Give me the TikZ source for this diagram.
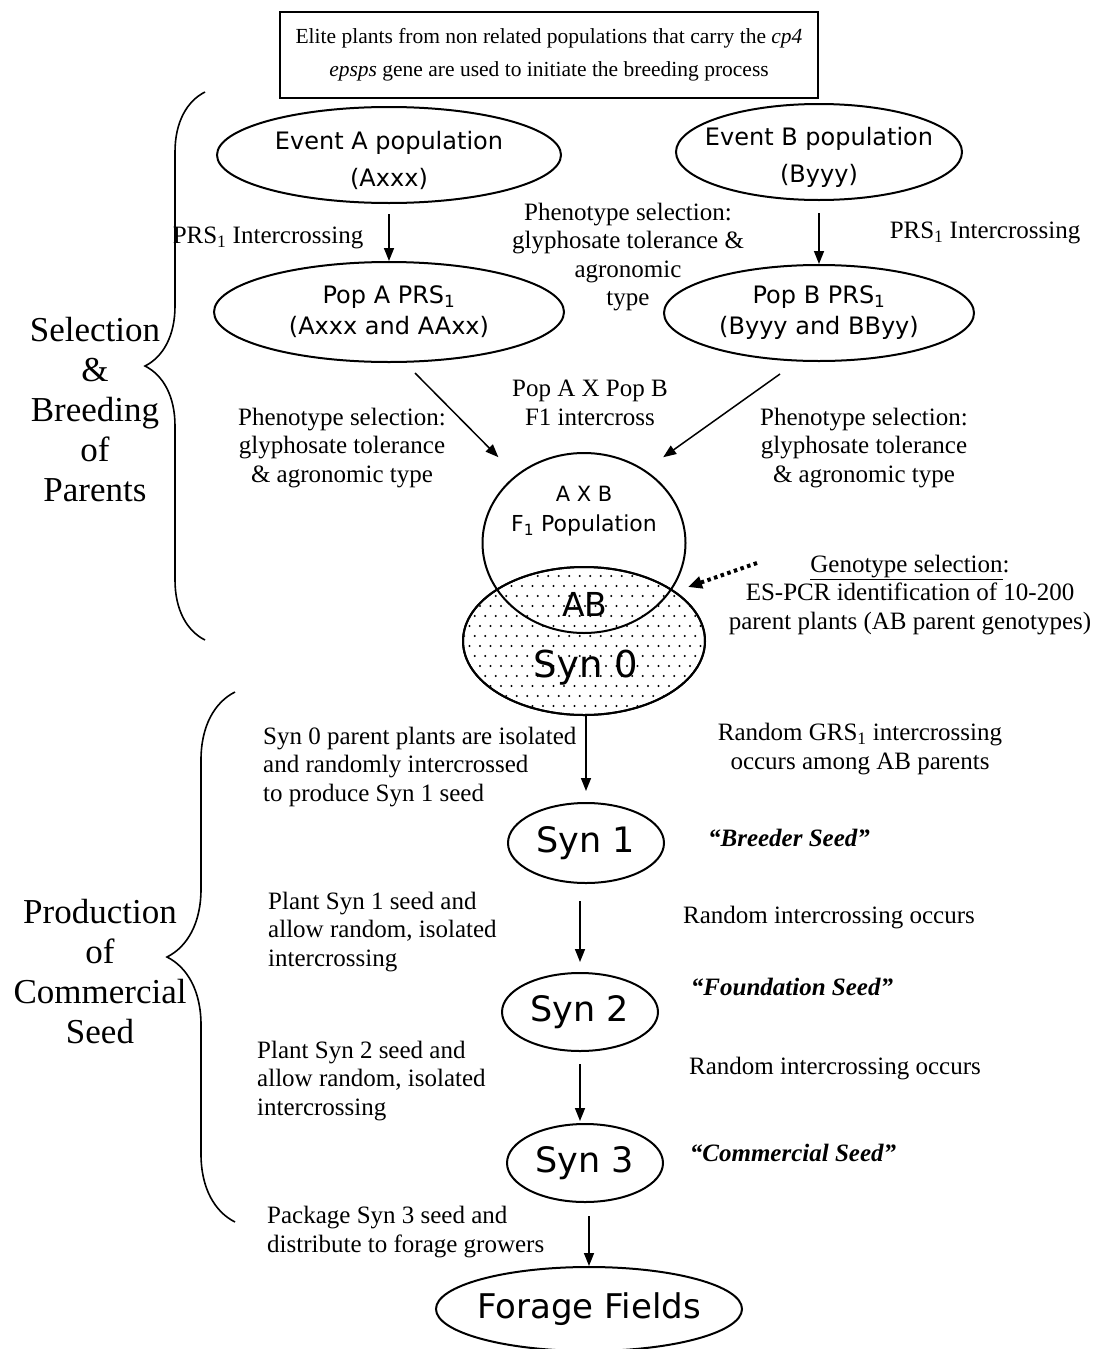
\documentclass[tikz,border=0pt]{standalone}
\usepackage{fontspec}
\setmainfont{Liberation Serif}
\newfontfamily\sansf{DejaVu Sans}
\usetikzlibrary{arrows.meta,shapes.geometric,decorations.pathreplacing}
\begin{document}
\begin{tikzpicture}[x=1pt,y=-1pt,
  txt/.style={font=\fontsize{25}{28.5}\selectfont, align=center, inner sep=0pt},
  txtl/.style={font=\fontsize{25}{28.5}\selectfont, align=left, inner sep=0pt, anchor=west},
  big/.style={font=\fontsize{35}{40}\selectfont, align=center, inner sep=0pt},
  seedlbl/.style={font=\fontsize{25}{28}\selectfont\bfseries\itshape, inner sep=0pt},
  ell/.style={draw, line width=2pt, ellipse, inner sep=0pt},
  sanslbl/.style={font=\sansf\fontsize{24}{37}\selectfont, align=center, inner sep=0pt},
  poplbl/.style={font=\sansf\fontsize{24}{31}\selectfont, align=center, inner sep=0pt},
  synlbl/.style={font=\sansf\fontsize{35}{38}\selectfont, inner sep=0pt},
  arr/.style={line width=1.5pt, -{Triangle[length=13pt,width=10pt]}},
  dotarr/.style={line width=4pt, dash pattern=on 3.5pt off 3.5pt, -{Triangle[length=14pt,width=12pt]}},
  bracestyle/.style={line width=1.6pt, decorate}
]
\useasboundingbox (0,0) rectangle (1097,1349);

% top box
\node[draw, line width=1.6pt, minimum width=538pt, minimum height=86pt, align=center,
      font=\fontsize{21.5}{33}\selectfont, inner sep=0pt] (top) at (549,55)
  {Elite plants from non related populations that carry the \textit{cp4}\\
   \textit{epsps} gene are used to initiate the breeding process};

% braces and side labels
\draw[bracestyle, decoration={brace, amplitude=60pt}] (205,640) -- (205,92);
\draw[bracestyle, decoration={brace, amplitude=68pt}] (235,1222) -- (235,692);
\node[big] (selLbl) at (95,410) {Selection\\\&\\Breeding\\of\\Parents};
\node[big] (prodLbl) at (100,972) {Production\\of\\Commercial\\Seed};

% first row
\node[ell, minimum width=344pt, minimum height=96pt,
      label={[sanslbl, yshift=-5pt]center:{Event A population\\(Axxx)}}] (evA) at (389,155) {};
\node[ell, minimum width=286pt, minimum height=96pt,
      label={[sanslbl, yshift=-5pt]center:{Event B population\\(Byyy)}}] (evB) at (819,152) {};

\node[ell, minimum width=350pt, minimum height=100pt,
      label={[poplbl]center:{Pop A PRS\textsubscript{1}\\(Axxx and AAxx)}}] (popA) at (389,312) {};
\node[ell, minimum width=310pt, minimum height=96pt,
      label={[poplbl]center:{Pop B PRS\textsubscript{1}\\(Byyy and BByy)}}] (popB) at (819,313) {};

\draw[arr] ([yshift=-10pt]evA.south) -- (popA.north);
\draw[arr] ([yshift=-12pt]evB.south) -- (popB.north);

\node[txt] (prsA) at (268,238) {PRS\textsubscript{1} Intercrossing};
\node[txt] (prsB) at (985,233) {PRS\textsubscript{1} Intercrossing};
\node[txt] (phenoMid) at (628,257) {Phenotype selection:\\glyphosate tolerance \&\\agronomic\\type};

% Syn 0 ellipse with dots
\node[ell, minimum width=242pt, minimum height=148pt] (syn0) at (584,641) {};
\begin{scope}
  \clip (584,641) ellipse [x radius=120pt, y radius=73pt];
  \foreach \r in {0,...,15} {
    \foreach \c in {0,...,24} {
      \fill ({459+\c*10.5+mod(\r,2)*5.25},{566+\r*10}) circle [radius=1.1pt];
    }
  }
\end{scope}
\node[ell, minimum width=242pt, minimum height=148pt] at (syn0) {};

% F1 circle
\node[ell, minimum width=203pt, minimum height=180pt] (f1) at (584,543) {};
\node[font=\sansf\fontsize{21}{22}\selectfont, inner sep=0pt] (axb) at (584,494) {A X B};
\node[font=\sansf\fontsize{22}{24}\selectfont, inner sep=0pt] (f1pop) at (584,525) {F\textsubscript{1} Population};
\node[font=\sansf\fontsize{33}{34}\selectfont, inner sep=0pt] (ablbl) at (585,604) {AB};
\node[font=\sansf\fontsize{37}{38}\selectfont, inner sep=0pt] (syn0lbl) at (586,668) {Syn 0};

\node[txt] (popx) at (590,403) {Pop A X Pop B\\F1 intercross};
\node[txt] (phenoL) at (342,448) {Phenotype selection:\\glyphosate tolerance\\\& agronomic type};
\node[txt] (phenoR) at (864,448) {Phenotype selection:\\glyphosate tolerance\\\& agronomic type};

\draw[arr, shorten >=25pt] ([xshift=26pt,yshift=-10pt]popA.south) -- (f1.135);
\draw[arr, shorten >=22pt] ([xshift=-39pt,yshift=-12pt]popB.south) -- (f1.50);

\coordinate (gsStart) at (757,563);
\coordinate (gsTip) at (688,587);
\draw[dotarr] (gsStart) -- (gsTip);
\node[txt] (geno) at (910,595) {\underline{Genotype selection}:\\ES-PCR identification of 10-200\\parent plants (AB parent genotypes)};

% Syn chain
\node[ell, minimum width=156pt, minimum height=80pt,
      label={[synlbl]center:{Syn 1}}] (syn1) at (586,843) {};
\node[ell, minimum width=156pt, minimum height=78pt,
      label={[synlbl]center:{Syn 2}}] (syn2) at (580,1012) {};
\node[ell, minimum width=156pt, minimum height=78pt,
      label={[synlbl]center:{Syn 3}}] (syn3) at (585,1163) {};
\node[ell, minimum width=306pt, minimum height=84pt,
      label={[font=\sansf\fontsize{34}{36}\selectfont, inner sep=0pt]center:{Forage Fields}}] (ff) at (589,1309) {};

\draw[arr, shorten >=11pt] (syn0.south -| syn1) -- (syn1.north);
\draw[arr, shorten <=17pt, shorten >=10pt] (syn1.south -| syn2) -- (syn2.north);
\draw[arr, shorten <=12pt, shorten >=2pt] (syn2.south) -- (syn3.north -| syn2);
\draw[arr, shorten <=13pt] (syn3.south -| ff) -- (ff.north);

\node[txtl] (s0txt) at (263,767) {Syn 0 parent plants are isolated\\and randomly intercrossed\\to produce Syn 1 seed};
\node[txt] (grs) at (860,749) {Random GRS\textsubscript{1} intercrossing\\occurs among AB parents};
\node[seedlbl] (breeder) at (789,838) {“Breeder Seed”};
\node[txtl] (s1txt) at (268,932) {Plant Syn 1 seed and\\allow random, isolated\\intercrossing};
\node[txt] (ri1) at (829,918) {Random intercrossing occurs};
\node[seedlbl] (found) at (792,987) {“Foundation Seed”};
\node[txtl] (s2txt) at (257,1081) {Plant Syn 2 seed and\\allow random, isolated\\intercrossing};
\node[txt] (ri2) at (835,1069) {Random intercrossing occurs};
\node[seedlbl] (comm) at (793,1153) {“Commercial Seed”};
\node[txtl] (pkg) at (267,1232) {Package Syn 3 seed and\\distribute to forage growers};
\end{tikzpicture}
\end{document}
